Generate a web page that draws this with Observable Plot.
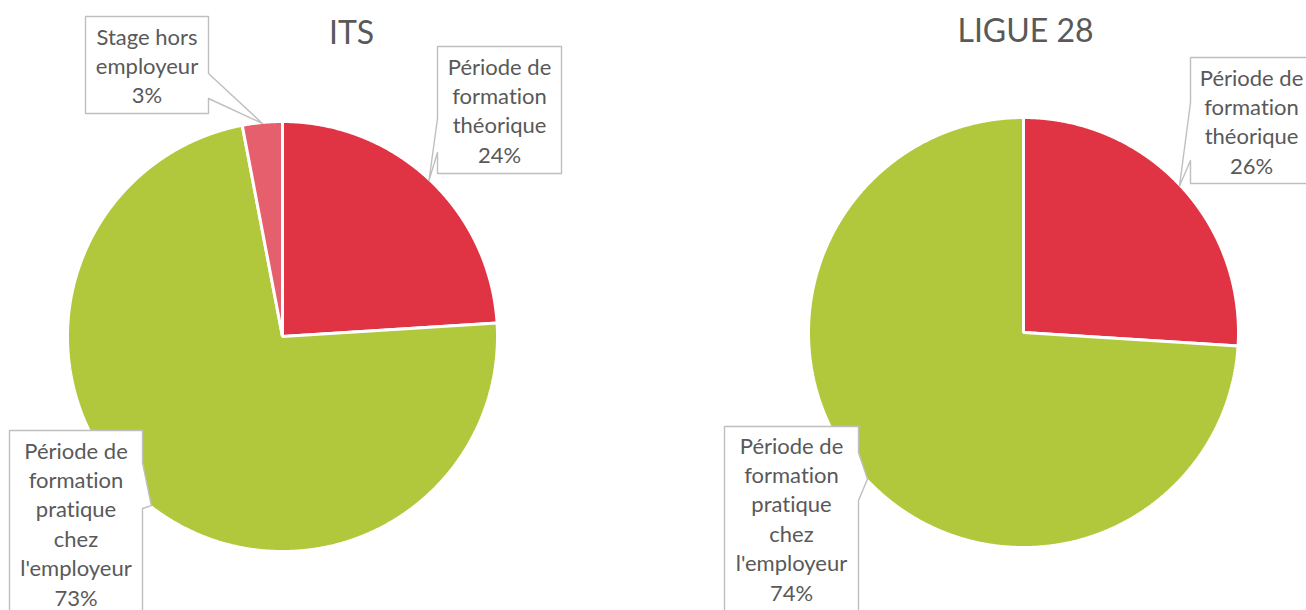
<!DOCTYPE html>
<html><head><meta charset="utf-8">
<script src="https://cdn.jsdelivr.net/npm/d3@7"></script>
<script src="https://cdn.jsdelivr.net/npm/@observablehq/plot@0.6"></script>
<style>
  html,body{margin:0;padding:0;background:#fff}
  #chart svg{display:block}
  #chart svg text{font-variant-ligatures:none;font-feature-settings:"liga" 0,"clig" 0}
</style>
</head><body><div id="chart"></div>
<script>
// ---- data ----
const charts = ["ITS", "LIGUE 28"];
const categories = ["Période de formation théorique", "Période de formation pratique chez l'employeur", "Stage hors employeur"];
const categoryLines = [["Période de","formation","théorique"],["Période de","formation","pratique","chez","l'employeur"],["Stage hors","employeur"]];
const itsValues = [24, 73, 3];
const ligueValues = [26, 74, 0];
const colors = ["#E03444", "#B1C83C", "#E5606C"];

// ---- layout ----
const W = 1306, H = 610, R = 215;
const centers = [[282, 336], [1023, 332]];
const titlePos = [[351, 43], [1025, 41]];
const LINE = 29.4;
// label boxes: [chartIndex, categoryIndex, x0, y0, x1, y1, side, tailTop, tailBottom, textX, firstBaseline]
const boxes = [
  [0, 0, 437, 46, 561, 173, "left", 118, 152, 499, 74],
  [0, 2, 85, 16, 208, 113, "right", 73, 98, 146.5, 44],
  [0, 1, 9, 430, 142, 616, "right", 462, 508, 75.5, 458],
  [1, 0, 1190, 57, 1312, 183, "left", 102, 160, 1251, 85],
  [1, 1, 724, 426, 858, 616, "right", 452, 500, 791, 453]
];

const seriesValues = [itsValues, ligueValues];
const pie = d3.pie().sort(null).startAngle(0).endAngle(2 * Math.PI);

const slicePts = [];
const arcsByChart = [];
seriesValues.forEach((vals, ci) => {
  const [cx, cy] = centers[ci];
  const arcs = pie(vals);
  arcsByChart.push(arcs);
  arcs.forEach((a, k) => {
    if (a.value <= 0) return;
    const key = ci + "-" + k;
    slicePts.push({key, x: cx, y: cy, color: colors[k]});
    const n = Math.max(2, Math.ceil((a.endAngle - a.startAngle) / 0.005));
    for (let i = 0; i <= n; i++) {
      const t = a.startAngle + (a.endAngle - a.startAngle) * i / n;
      slicePts.push({key, x: cx + R * Math.sin(t), y: cy - R * Math.cos(t), color: colors[k]});
    }
  });
});

const boxPts = [];
const labelTexts = [];
boxes.forEach(([ci, k, x0, y0, x1, y1, side, t0, t1, tx, b0], bi) => {
  const a = arcsByChart[ci][k];
  const mid = (a.startAngle + a.endAngle) / 2;
  const [cx, cy] = centers[ci];
  const tip = [cx + (R - 1) * Math.sin(mid), cy - (R - 1) * Math.cos(mid)];
  let pts = [[x0, y0], [x1, y0]];
  if (side === "right") pts.push([x1, t0], tip, [x1, t1]);
  pts.push([x1, y1], [x0, y1]);
  if (side === "left") pts.push([x0, t1], tip, [x0, t0]);
  pts.forEach(([x, y]) => boxPts.push({key: "b" + bi, x, y}));
  const lines = [...categoryLines[k], seriesValues[ci][k] + "%"];
  lines.forEach((s, i) => labelTexts.push({text: s, x: tx, y: b0 + i * LINE}));
});

const titles = charts.map((c, i) => ({text: c, x: titlePos[i][0], y: titlePos[i][1]}));

const plot = Plot.plot({
  width: W, height: H,
  margin: 0,
  x: {domain: [0, W], range: [0, W], axis: null},
  y: {domain: [0, H], range: [0, H], axis: null},
  color: {type: "identity"},
  style: {background: "#fff", fontFamily: "Lato, 'Open Sans', sans-serif"},
  marks: [
    Plot.line(slicePts, {x: "x", y: "y", z: "key", fill: "color", stroke: "#fff", strokeWidth: 3, strokeLinejoin: "miter", curve: "linear-closed"}),
    Plot.line(boxPts, {x: "x", y: "y", z: "key", fill: "#fff", stroke: "#BFBFBF", strokeWidth: 1.4, curve: "linear-closed"}),
    Plot.text(labelTexts, {x: "x", y: "y", text: "text", textAnchor: "middle", lineAnchor: "bottom", fontSize: 22, fill: "#595959"}),
    Plot.text(titles, {x: "x", y: "y", text: "text", textAnchor: "middle", lineAnchor: "bottom", fontSize: 32, fill: "#595959"})
  ]
});
document.getElementById("chart").appendChild(plot);
</script>
</body></html>
